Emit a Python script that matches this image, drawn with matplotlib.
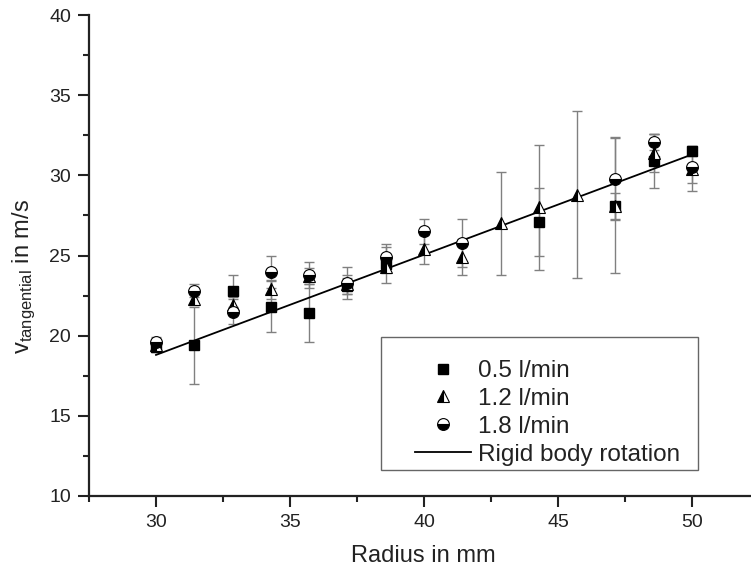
import numpy as np
import matplotlib.pyplot as plt
from matplotlib.patches import Rectangle
from matplotlib.ticker import MultipleLocator

plt.rcParams['font.family'] = ['Liberation Sans', 'DejaVu Sans']
plt.rcParams['mathtext.default'] = 'regular'

nan = np.nan

# measurement radii in mm
radius = [30, 31.43, 32.86, 34.29, 35.71, 37.14, 38.57, 40, 41.43,
          42.86, 44.29, 45.71, 47.14, 48.57, 50]

# tangential velocity (m/s) and std deviation per flow rate
v_05 = [19.3, 19.4, 22.8, 21.8, 21.4, 23.1, 24.5, nan, nan,
        nan, 27.1, nan, 28.1, 30.9, 31.5]
err_05 = [0.3, 2.4, 1.0, 1.6, 1.8, 0.5, 1.2, nan, nan,
          nan, 2.1, nan, 0.8, 1.7, 0.3]

v_12 = [19.4, 22.3, 21.9, 22.9, 23.7, 23.2, 24.3, 25.4, 24.9,
        27.0, 28.0, 28.8, 28.1, 31.4, 30.4]
err_12 = [0.3, 0.4, 0.5, 0.6, 0.5, 0.6, 0.4, 0.9, 1.1,
          3.2, 3.9, 5.2, 4.2, 1.2, 1.4]

v_18 = [19.6, 22.8, 21.5, 24.0, 23.8, 23.3, 24.9, 26.5, 25.8,
        nan, nan, nan, 29.8, 32.1, 30.5]
err_18 = [0.3, 0.4, 0.8, 1.0, 0.8, 1.0, 0.6, 0.8, 1.5,
          nan, nan, nan, 2.6, 0.5, 1.0]

# rigid body rotation reference line
rigid_r = [30, 50]
rigid_v = [18.8, 31.3]

fig = plt.figure(figsize=(7.51, 5.69), dpi=100)
ax = fig.add_axes([89 / 751, 73 / 569, 662 / 751, 481 / 569])

hline, = ax.plot(rigid_r, rigid_v, color='black', lw=1.3, zorder=2,
                 label='Rigid body rotation')

ebar = dict(fmt='none', ecolor='#808080', elinewidth=1.0, capsize=3.5,
            capthick=1.0, zorder=1)
ax.errorbar(radius, v_05, yerr=err_05, **ebar)
ax.errorbar(radius, v_12, yerr=err_12, **ebar)
ax.errorbar(radius, v_18, yerr=err_18, **ebar)

h05, = ax.plot(radius, v_05, ls='none', marker='s', ms=7, color='black',
               mec='black', zorder=3, label='0.5 l/min')
h12, = ax.plot(radius, v_12, ls='none', marker='^', ms=8.5, color='black',
               fillstyle='left', markerfacecoloralt='white', mec='black',
               mew=0.8, zorder=4, label='1.2 l/min')
h18, = ax.plot(radius, v_18, ls='none', marker='o', ms=8.5, color='black',
               fillstyle='bottom', markerfacecoloralt='white', mec='black',
               mew=0.8, zorder=5, label='1.8 l/min')

ax.set_xlim(27.5, 52.2)
ax.set_ylim(10, 40)
ax.xaxis.set_major_locator(MultipleLocator(5))
ax.xaxis.set_minor_locator(MultipleLocator(2.5))
ax.yaxis.set_major_locator(MultipleLocator(5))
ax.yaxis.set_minor_locator(MultipleLocator(2.5))
ax.set_xticks([30, 35, 40, 45, 50])

for side in ['top', 'right']:
    ax.spines[side].set_visible(False)
for side in ['left', 'bottom']:
    ax.spines[side].set_linewidth(1.6)
    ax.spines[side].set_color('#222222')

ax.tick_params(which='major', direction='out', length=8, width=1.5,
               labelsize=14, colors='#222222', pad=5)
ax.tick_params(which='minor', direction='out', length=4.5, width=1.5,
               colors='#222222')

ax.set_xlabel('Radius in mm', fontsize=17, color='#222222')
ax.xaxis.set_label_coords(0.505, -0.125)
ax.xaxis.label.set_va('center')
ax.set_ylabel('v$_{tangential}$ in m/s', fontsize=17, color='#222222')
ax.yaxis.set_label_coords(-0.098, 0.457)
ax.yaxis.label.set_va('center')

# legend frame is drawn separately so it can be wider than its entries
ax.add_patch(Rectangle((381 / 751, (569 - 470) / 569), 317 / 751, 133 / 569,
                       transform=fig.transFigure, fill=False,
                       edgecolor='#666666', lw=1.0, zorder=6))
leg = ax.legend([h05, h12, h18, hline],
                ['0.5 l/min', '1.2 l/min', '1.8 l/min', 'Rigid body rotation'],
                loc='upper left', bbox_to_anchor=(415 / 751, (569 - 360) / 569),
                bbox_transform=fig.transFigure, frameon=False, fontsize=17.5,
                handlelength=2.3, handletextpad=0.3, labelspacing=0.24,
                borderpad=0, borderaxespad=0, numpoints=1)
for t in leg.get_texts():
    t.set_color('#222222')

fig.savefig('out.png', dpi=100)
